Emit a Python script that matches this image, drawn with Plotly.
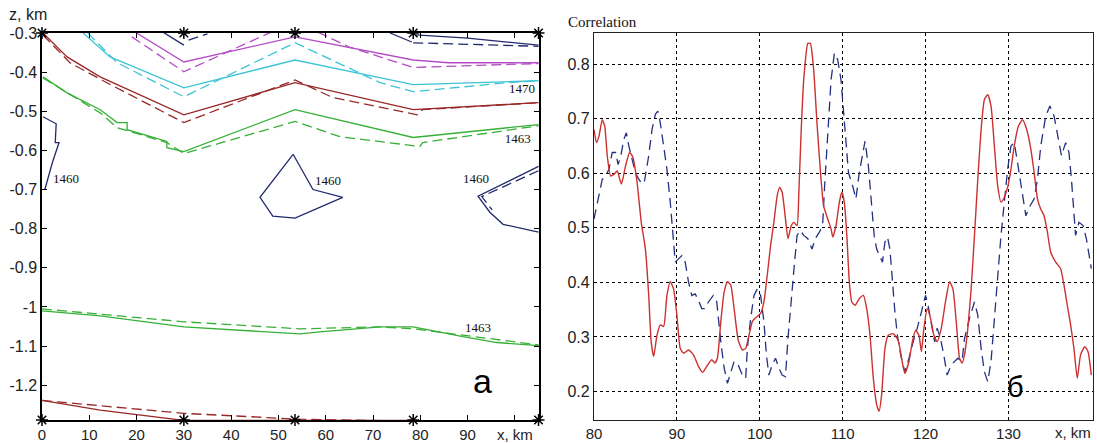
import plotly.graph_objects as go

# ---------------- left panel: velocity contours (x km, z km) ----------------
stations = [0, 30, 53.5, 78.5, 105]

mag_s_x = [20, 30, 53.5, 78.5, 86, 105]
mag_s_z = [-0.30, -0.374, -0.31, -0.369, -0.376, -0.376]
mag_d_x = [19, 30, 53.5, 65, 78.5, 105]
mag_d_z = [-0.31, -0.399, -0.27, -0.336, -0.388, -0.378]

cy_s_x = [8.7, 14.4, 30, 53.5, 78.5, 98.3, 105]
cy_s_z = [-0.30, -0.361, -0.440, -0.369, -0.432, -0.425, -0.422]
cy_d_x = [9.7, 15.9, 30, 53.5, 71.5, 78.5, 98.3, 105]
cy_d_z = [-0.30, -0.376, -0.463, -0.325, -0.427, -0.450, -0.427, -0.422]

red_s_x = [0.2, 5.3, 12.3, 19.2, 30, 53.5, 78.5, 105]
red_s_z = [-0.30, -0.361, -0.412, -0.450, -0.509, -0.427, -0.496, -0.478]
red_d_x = [0.2, 5.9, 13.7, 30, 53.5, 61.5, 79.3, 80.5, 105]
red_d_z = [-0.305, -0.376, -0.427, -0.529, -0.420, -0.465, -0.509, -0.496, -0.478]

gr_s_x = [0.2, 5.3, 12.3, 15.9, 18.0, 18.0, 26.4, 26.4, 30, 53.5, 78.5, 105]
gr_s_z = [-0.412, -0.453, -0.496, -0.529, -0.529, -0.547, -0.577, -0.593, -0.603, -0.496, -0.567, -0.534]
gr_d_x = [0.2, 12.3, 15.9, 26.4, 30, 53.5, 63, 73.6, 79.9, 80.5, 105]
gr_d_z = [-0.415, -0.504, -0.542, -0.580, -0.608, -0.526, -0.565, -0.580, -0.590, -0.580, -0.537]

nv_a_s_x = [25.6, 30]
nv_a_s_z = [-0.298, -0.331]
nv_a_d_x = [31, 35]
nv_a_d_z = [-0.318, -0.302]
nv_b_s_x = [73.6, 78.2]
nv_b_s_z = [-0.300, -0.323]
nv_b_d_x = [78.5, 100, 105]
nv_b_d_z = [-0.325, -0.333, -0.334]
nv_c_s_x = [79, 90, 105]
nv_c_s_z = [-0.305, -0.313, -0.331]

nv_l_x = [0.2, 2.3, 3.0, 2.8, 3.6, 2.2, 0.6]
nv_l_z = [-0.514, -0.526, -0.532, -0.580, -0.580, -0.631, -0.700]
nv_m_x = [53.1, 57.3, 63.6, 53.5, 48.8, 46.1, 53.1]
nv_m_z = [-0.610, -0.700, -0.720, -0.773, -0.768, -0.720, -0.610]
nv_r_s_x = [105, 92.2, 94.7, 97.5, 105]
nv_r_s_z = [-0.641, -0.717, -0.758, -0.789, -0.809]
nv_r_d_x = [105, 93.0, 95.2]
nv_r_d_z = [-0.652, -0.718, -0.752]

bg_s_x = [0, 12.3, 30, 54.5, 59.4, 71.5, 78.5, 89, 96.2, 105]
bg_s_z = [-1.010, -1.023, -1.051, -1.069, -1.063, -1.051, -1.051, -1.076, -1.091, -1.099]
bg_d_x = [0, 30, 54.5, 71.5, 78.5, 105]
bg_d_z = [-1.005, -1.038, -1.056, -1.051, -1.056, -1.097]

br_s_x = [0, 12.3, 30, 78.5]
br_s_z = [-1.239, -1.264, -1.290, -1.290]
br_d_x = [0, 30, 54.5, 78.5]
br_d_z = [-1.239, -1.272, -1.287, -1.292]

contour_labels = ["1470", "1463", "1460", "1460", "1460", "1463"]
label_x = [101.5, 100.6, 5.1, 60.5, 91.8, 92.2]
label_z = [-0.445, -0.572, -0.674, -0.679, -0.674, -1.055]

z_ticks = [-0.3, -0.4, -0.5, -0.6, -0.7, -0.8, -0.9, -1.0, -1.1, -1.2]
z_tick_text = ["-0.3", "-0.4", "-0.5", "-0.6", "-0.7", "-0.8", "-0.9", "-1", "-1.1", "-1.2"]
xl_ticks = [0, 10, 20, 30, 40, 50, 60, 70, 80, 90, 100]
xl_tick_text = ["0", "10", "20", "30", "40", "50", "60", "70", "80", "90", "x, km"]

# ---------------- right panel: correlation ----------------
red_x = [80.0, 80.3, 80.6, 81.0, 81.3, 81.6, 82.0, 82.4, 82.8, 83.3, 83.8, 84.3, 84.7, 85.2, 85.7,
         86.2, 86.6, 86.9, 87.2, 87.6, 88.0, 88.4, 88.8, 89.2, 89.6, 90.0, 90.4, 90.8, 91.4, 92.0,
         92.6, 93.1, 93.6, 94.2, 94.6, 94.9, 95.3, 95.7, 96.1, 96.5, 96.9, 97.4, 97.9, 98.3, 98.7,
         99.1, 99.5, 100.1, 100.5, 100.9, 101.3, 101.7, 102.1, 102.4, 102.7, 103.1, 103.4, 103.8,
         104.1, 104.5, 104.7, 105.0, 105.3, 105.8, 106.1, 106.5, 106.9, 107.3, 107.7, 108.2, 108.6,
         108.8, 109.2, 109.6, 109.9, 110.2, 110.5, 110.8, 111.1, 111.5, 112.0, 112.5, 112.9, 113.3,
         113.7, 114.1, 114.4, 114.7, 115.1, 115.5, 116.1, 116.7, 117.1, 117.5, 118.0, 118.4, 118.8,
         119.2, 119.5, 119.8, 120.2, 120.6, 121.0, 121.4, 121.9, 122.4, 122.9, 123.3, 123.7, 124.1,
         124.4, 124.7, 125.1, 125.5, 125.9, 126.3, 126.7, 127.1, 127.5, 127.9, 128.3, 128.7, 129.1,
         129.5, 129.9, 130.3, 130.7, 131.2, 131.7, 132.2, 132.7, 133.1, 133.5, 133.9, 134.3, 134.7,
         135.1, 135.7, 136.3, 136.7, 137.1, 137.5, 137.9, 138.3, 138.7, 139.2, 139.6, 140.0]
red_y = [0.680, 0.656, 0.668, 0.698, 0.686, 0.632, 0.595, 0.598, 0.604, 0.580, 0.613, 0.638, 0.629,
         0.583, 0.510, 0.461, 0.376, 0.291, 0.264, 0.303, 0.322, 0.319, 0.376, 0.401, 0.388, 0.340,
         0.279, 0.270, 0.276, 0.267, 0.246, 0.235, 0.246, 0.258, 0.252, 0.262, 0.328, 0.382, 0.401,
         0.395, 0.352, 0.294, 0.276, 0.279, 0.303, 0.328, 0.335, 0.343, 0.364, 0.413, 0.467, 0.510,
         0.559, 0.574, 0.565, 0.516, 0.480, 0.504, 0.510, 0.504, 0.559, 0.680, 0.771, 0.838, 0.838,
         0.790, 0.692, 0.607, 0.540, 0.516, 0.498, 0.483, 0.504, 0.547, 0.565, 0.547, 0.486, 0.401,
         0.364, 0.358, 0.370, 0.376, 0.352, 0.303, 0.224, 0.176, 0.164, 0.194, 0.279, 0.303, 0.306,
         0.294, 0.261, 0.233, 0.255, 0.291, 0.312, 0.303, 0.273, 0.316, 0.352, 0.334, 0.303, 0.291,
         0.316, 0.364, 0.401, 0.388, 0.328, 0.261, 0.252, 0.267, 0.316, 0.388, 0.486, 0.589, 0.680,
         0.735, 0.744, 0.723, 0.650, 0.577, 0.547, 0.556, 0.574, 0.607, 0.650, 0.686, 0.698, 0.680,
         0.644, 0.601, 0.553, 0.534, 0.522, 0.492, 0.455, 0.437, 0.425, 0.395, 0.358, 0.322, 0.279,
         0.224, 0.267, 0.282, 0.273, 0.230]

blue_x = [80.0, 80.6, 81.0, 81.3, 81.8, 82.2, 82.6, 82.9, 83.2, 83.6, 83.9, 84.2, 84.5, 85.0, 85.4,
          85.8, 86.1, 86.6, 87.0, 87.4, 87.7, 88.0, 88.4, 88.8, 89.2, 89.5, 89.8, 90.2, 90.6, 91.0,
          91.4, 91.8, 92.2, 92.6, 93.0, 93.4, 93.8, 94.4, 94.8, 95.3, 95.7, 96.1, 96.5, 96.9, 97.3,
          97.9, 98.3, 98.5, 98.9, 99.3, 99.7, 100.1, 100.5, 100.8, 101.1, 101.5, 101.9, 102.3, 102.7,
          103.1, 103.4, 103.8, 104.2, 104.5, 104.9, 105.3, 105.8, 106.3, 106.7, 107.3, 107.6, 107.8,
          108.2, 108.6, 109.0, 109.4, 109.8, 110.1, 110.4, 110.7, 111.2, 111.6, 112.0, 112.4, 112.7,
          113.1, 113.4, 113.8, 114.1, 114.5, 114.8, 115.1, 115.4, 115.7, 116.0, 116.3, 116.6, 117.0,
          117.5, 118.0, 118.5, 119.0, 119.5, 120.0, 120.3, 120.7, 121.1, 121.4, 121.8, 122.2, 122.6,
          123.1, 123.5, 123.9, 124.4, 124.7, 125.3, 125.9, 126.3, 126.7, 127.1, 127.5, 127.9, 128.3,
          128.7, 129.1, 129.5, 129.9, 130.3, 130.7, 131.1, 131.6, 132.1, 132.6, 133.1, 133.5, 133.9,
          134.5, 135.0, 135.5, 136.0, 136.4, 136.9, 137.3, 137.6, 137.9, 138.1, 138.5, 139.0, 139.4,
          139.8, 140.0]
blue_y = [0.516, 0.559, 0.589, 0.592, 0.607, 0.638, 0.638, 0.616, 0.629, 0.662, 0.674, 0.650, 0.632,
          0.601, 0.589, 0.580, 0.586, 0.632, 0.680, 0.708, 0.714, 0.692, 0.650, 0.607, 0.547, 0.486,
          0.437, 0.443, 0.449, 0.437, 0.401, 0.376, 0.379, 0.367, 0.352, 0.352, 0.364, 0.376, 0.365,
          0.291, 0.243, 0.215, 0.236, 0.255, 0.252, 0.230, 0.224, 0.279, 0.334, 0.376, 0.388, 0.376,
          0.328, 0.267, 0.230, 0.249, 0.261, 0.243, 0.230, 0.227, 0.297, 0.376, 0.437, 0.486, 0.495,
          0.486, 0.480, 0.461, 0.480, 0.495, 0.510, 0.571, 0.680, 0.771, 0.820, 0.808, 0.771, 0.711,
          0.650, 0.601, 0.577, 0.553, 0.601, 0.638, 0.659, 0.613, 0.559, 0.486, 0.461, 0.449, 0.437,
          0.474, 0.483, 0.461, 0.401, 0.346, 0.303, 0.267, 0.236, 0.261, 0.291, 0.316, 0.346, 0.376,
          0.358, 0.328, 0.291, 0.316, 0.297, 0.267, 0.230, 0.249, 0.255, 0.261, 0.255, 0.297, 0.334,
          0.364, 0.340, 0.279, 0.236, 0.218, 0.255, 0.334, 0.401, 0.486, 0.547, 0.607, 0.650, 0.656,
          0.619, 0.571, 0.522, 0.540, 0.553, 0.589, 0.650, 0.705, 0.723, 0.705, 0.662, 0.632, 0.656,
          0.638, 0.589, 0.528, 0.486, 0.510, 0.504, 0.480, 0.437, 0.425]

xr_ticks = [80, 90, 100, 110, 120, 130]
yr_ticks = [0.2, 0.3, 0.4, 0.5, 0.6, 0.7, 0.8]

# ---------------- figure ----------------
MAG, CYA, DRD, GRN, NAV = "#b44cc6", "#3cc4d6", "#982828", "#36b036", "#232a6e"
RED, BLU = "#cc3030", "#25307f"
LW = 1.3

fig = go.Figure()

def add(xs, zs, color, dash="solid", xa="x", ya="y"):
    fig.add_trace(go.Scatter(x=xs, y=zs, mode="lines", xaxis=xa, yaxis=ya,
                             line=dict(color=color, width=LW, dash=dash),
                             showlegend=False, hoverinfo="skip"))

DL = "10px,5px"
add(mag_s_x, mag_s_z, MAG); add(mag_d_x, mag_d_z, MAG, DL)
add(cy_s_x, cy_s_z, CYA); add(cy_d_x, cy_d_z, CYA, DL)
add(red_s_x, red_s_z, DRD); add(red_d_x, red_d_z, DRD, DL)
add(gr_s_x, gr_s_z, GRN); add(gr_d_x, gr_d_z, GRN, DL)
add(nv_a_s_x, nv_a_s_z, NAV); add(nv_a_d_x, nv_a_d_z, NAV, DL)
add(nv_b_s_x, nv_b_s_z, NAV); add(nv_b_d_x, nv_b_d_z, NAV, DL)
add(nv_c_s_x, nv_c_s_z, NAV)
add(nv_l_x, nv_l_z, NAV)
add(nv_m_x, nv_m_z, NAV)
add(nv_r_s_x, nv_r_s_z, NAV); add(nv_r_d_x, nv_r_d_z, NAV, DL)
add(bg_s_x, bg_s_z, GRN); add(bg_d_x, bg_d_z, GRN, DL)
add(br_s_x, br_s_z, DRD); add(br_d_x, br_d_z, DRD, DL)

zrange = [-1.289, -0.3]
for zz in zrange:
    fig.add_trace(go.Scatter(x=stations, y=[zz] * len(stations), mode="markers",
                             marker=dict(symbol="asterisk-open", size=10, color="black",
                                         line=dict(color="black", width=1.5)),
                             cliponaxis=False, showlegend=False, hoverinfo="skip"))

fig.add_trace(go.Scatter(x=label_x, y=label_z, mode="text", text=contour_labels,
                         textfont=dict(family="Liberation Serif", size=13, color="#111"),
                         showlegend=False, hoverinfo="skip"))

fig.add_trace(go.Scatter(x=blue_x, y=blue_y, mode="lines", xaxis="x2", yaxis="y2",
                         line=dict(color=BLU, width=1.3, dash="10px,6px"),
                         showlegend=False, hoverinfo="skip"))
fig.add_trace(go.Scatter(x=red_x, y=red_y, mode="lines", xaxis="x2", yaxis="y2",
                         line=dict(color=RED, width=1.4, shape="spline", smoothing=0.5),
                         showlegend=False, hoverinfo="skip"))

TF = dict(family="Liberation Sans", size=16, color="#222")
TFX = dict(family="Liberation Sans", size=15, color="#222")
ML, MR, MT, MB = 42, 4, 33, 23
PW = 1097 - ML - MR
PH = 443 - MT - MB
dl = (539 - ML) / PW
dr = (594 - ML) / PW

fig.update_layout(
    width=1097, height=443,
    margin=dict(l=ML, r=MR, t=MT, b=MB, autoexpand=False),
    paper_bgcolor="white", plot_bgcolor="white",
    xaxis=dict(domain=[0, dl], range=[0, 105.1], tickvals=xl_ticks, ticktext=xl_tick_text,
               ticks="inside", ticklen=5, tickcolor="black", mirror="ticks",
               showline=True, linecolor="black", linewidth=1.5, showgrid=False,
               zeroline=False, tickfont=TFX, automargin=False),
    yaxis=dict(domain=[0, 1], range=zrange, tickvals=z_ticks, ticktext=z_tick_text,
               ticks="inside", ticklen=5, tickcolor="black", mirror="ticks",
               showline=True, linecolor="black", linewidth=1.5, showgrid=False,
               zeroline=False, tickfont=TF, automargin=False),
    xaxis2=dict(domain=[dr, 1], range=[80, 140.2], tickvals=xr_ticks, anchor="y2",
                showline=True, linecolor="#222", linewidth=1.2, mirror=True,
                showgrid=True, gridcolor="black", gridwidth=1, griddash="3px,3px",
                zeroline=False, tickfont=TFX, ticks="", automargin=False),
    yaxis2=dict(domain=[0, 1], range=[0.1477, 0.857], tickvals=yr_ticks, anchor="x2",
                showline=True, linecolor="#222", linewidth=1.2, mirror=True,
                showgrid=True, gridcolor="black", gridwidth=1, griddash="3px,3px",
                zeroline=False, tickfont=TF, ticks="", automargin=False),
    annotations=[
        dict(text="z, km", xref="paper", yref="paper", x=(28 - ML) / PW, y=(443 - MB - 15) / PH,
             showarrow=False, font=TF, xanchor="center", yanchor="middle"),
        dict(text="Correlation", xref="paper", yref="paper", x=(602 - ML) / PW, y=(443 - MB - 22) / PH,
             showarrow=False, font=dict(family="Liberation Serif", size=15, color="#111"),
             xanchor="center", yanchor="middle"),
        dict(text="x, km", xref="paper", yref="paper", x=1.0, y=-(432 - (443 - MB)) / PH,
             showarrow=False, font=TFX, xanchor="right", yanchor="middle"),
        dict(text="a", xref="x", yref="y", x=93.2, y=-1.19, showarrow=False,
             font=dict(family="Liberation Sans", size=34, color="black")),
        dict(text="б", xref="x2", yref="y2", x=130.9, y=0.208, showarrow=False,
             font=dict(family="Liberation Sans", size=29, color="black")),
    ],
)

fig.write_html("out.html", config={"displayModeBar": False},
               post_script="document.body.style.margin='0';document.body.style.padding='0';"
                           "document.body.style.overflow='hidden';")
